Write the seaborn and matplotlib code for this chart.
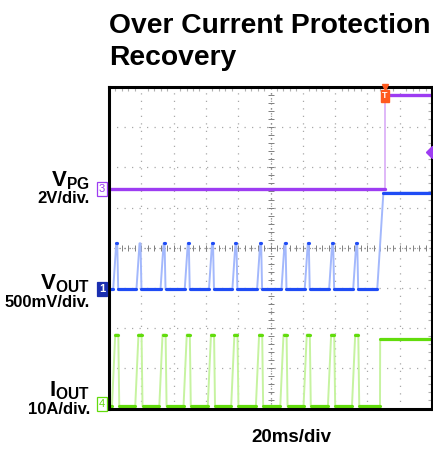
import numpy as np
import pandas as pd
import seaborn as sns
import matplotlib.pyplot as plt
from matplotlib.ticker import MultipleLocator
import matplotlib.transforms as mtrans

# scope screen: 20ms/div, 10 div x 8 div
t_end = 200
spike_ms = [4.8, 19.2, 34.1, 49.1, 64.1, 78.6, 93.9, 109.0, 123.4, 138.5, 153.4]
trig_ms = 170.9

# VPG, 2V/div
vpg_low, vpg_high = 0.0, 4.7
vpg_gnd, vpg_scale = 5.46, 2.0
trig_level_v = 1.86

# VOUT, 500mV/div
vout_base, vout_peak, vout_final = 0.0, 0.57, 1.2
vout_rec_ms = (166.1, 169.9)
vout_gnd, vout_scale = 2.97, 0.5

# IOUT, 10A/div
iout_base, iout_peak, iout_final = 0.0, 17.8, 16.6
iout_rec_ms = (167.8, 167.9)
iout_gnd, iout_scale = 0.06, 10.0

purple, purple_lt = "#9d3cf2", "#d9acf7"
blue, blue_lt = "#1f4cf5", "#a3b8fc"
green, green_lt = "#62dc0c", "#c6f3a0"
orange = "#ff5a1f"


def hiccup(spikes, base, peak, rise, hold, fall, rec, final):
    pts = [(0, base)]
    flats = []
    t_prev = 0
    for s in spikes:
        r0 = s - hold / 2 - rise
        p0, p1 = s - hold / 2, s + hold / 2
        f1 = p1 + fall
        flats.append([(t_prev, base), (r0, base)])
        flats.append([(p0, peak), (p1, peak)])
        pts += [(r0, base), (p0, peak), (p1, peak), (f1, base)]
        t_prev = f1
    flats.append([(t_prev, base), (rec[0], base)])
    flats.append([(rec[1], final), (t_end, final)])
    pts += [(rec[0], base), (rec[1], final), (t_end, final)]
    full = pd.DataFrame(pts, columns=["t", "v"])
    rows = [(i, t, v) for i, seg in enumerate(flats) for t, v in seg]
    flat = pd.DataFrame(rows, columns=["seg", "t", "v"])
    return full, flat


sns.set_style("white")
plt.rcParams["mathtext.fontset"] = "custom"
plt.rcParams["mathtext.bf"] = "Liberation Sans:bold"
plt.rcParams["mathtext.rm"] = "Liberation Sans"
plt.rcParams["font.family"] = ["Liberation Sans", "DejaVu Sans"]
plt.rcParams["text.color"] = "black"

fig = plt.figure(figsize=(4.33, 4.55), dpi=100)
ax = fig.add_axes([109 / 433, 46.5 / 455, 323 / 433, 321.5 / 455])

# graticule
ax.set_xlim(0, t_end)
ax.set_ylim(0, 8)
ax.xaxis.set_major_locator(MultipleLocator(20))
ax.yaxis.set_major_locator(MultipleLocator(1))
ax.xaxis.set_minor_locator(MultipleLocator(4))
ax.yaxis.set_minor_locator(MultipleLocator(0.2))
ax.grid(True, which="major", color="#a8a8a8", linestyle=(0, (1, 5)), lw=0.9)
ax.tick_params(which="both", direction="in", top=True, right=True,
               labelbottom=False, labelleft=False, color="#b0b0b0")
ax.tick_params(which="major", length=0)
ax.tick_params(which="minor", length=3, width=0.8)
ax.axvline(t_end / 2, color="#808080", linestyle=(0, (1, 3)), lw=0.9)
ax.axhline(4, color="#808080", linestyle=(0, (1, 3)), lw=0.9)
ax.plot(np.arange(0, t_end + 1, 4), np.full(51, 4), ls="none", marker="|",
        ms=4, mew=0.7, color="#808080")
ax.plot(np.full(41, t_end / 2), np.arange(0, 8.01, 0.2), ls="none", marker="_",
        ms=4, mew=0.7, color="#808080")
for s in ax.spines.values():
    s.set_color("black")
    s.set_linewidth(2.2)

# VPG trace
vpg = pd.DataFrame({"t": [0, trig_ms, trig_ms, t_end],
                    "v": [vpg_low, vpg_low, vpg_high, vpg_high]})
vpg["y"] = vpg_gnd + vpg["v"] / vpg_scale
sns.lineplot(data=vpg.iloc[1:3], x="t", y="y", color=purple_lt, lw=1.2,
             sort=False, estimator=None, ax=ax)
sns.lineplot(data=vpg.iloc[:2], x="t", y="y", color=purple, lw=2.4,
             sort=False, estimator=None, ax=ax)
sns.lineplot(data=vpg.iloc[2:], x="t", y="y", color=purple, lw=2.4,
             sort=False, estimator=None, ax=ax)

# VOUT trace
full, flat = hiccup(spike_ms, vout_base, vout_peak, 1.9, 0.6, 0.6,
                    vout_rec_ms, vout_final)
full["y"] = vout_gnd + full["v"] / vout_scale
flat["y"] = vout_gnd + flat["v"] / vout_scale
sns.lineplot(data=full, x="t", y="y", color=blue_lt, lw=1.4,
             sort=False, estimator=None, ax=ax)
sns.lineplot(data=flat, x="t", y="y", units="seg", color=blue, lw=2.3,
             sort=False, estimator=None, ax=ax)

# IOUT trace
full, flat = hiccup(spike_ms, iout_base, iout_peak, 2.0, 1.9, 0.6,
                    iout_rec_ms, iout_final)
full["y"] = iout_gnd + full["v"] / iout_scale
flat["y"] = iout_gnd + flat["v"] / iout_scale
sns.lineplot(data=full, x="t", y="y", color=green_lt, lw=1.4,
             sort=False, estimator=None, ax=ax)
sns.lineplot(data=flat, x="t", y="y", units="seg", color=green, lw=2.3,
             sort=False, estimator=None, ax=ax)
ax.set_xlabel("")
ax.set_ylabel("")

# channel ground markers
trans = mtrans.blended_transform_factory(ax.transAxes, ax.transData)
box = dict(boxstyle="square,pad=0.18", lw=0.9)
ax.text(-0.012, vpg_gnd, "3", transform=trans, ha="right", va="center",
        fontsize=8, color=purple, clip_on=False,
        bbox=dict(box, fc="white", ec=purple))
ax.text(-0.012, vout_gnd, "1", transform=trans, ha="right", va="center",
        fontsize=8, color="white", fontweight="bold", clip_on=False,
        bbox=dict(box, fc="#1a2fb0", ec="#1a2fb0"))
ax.text(-0.012, iout_gnd + 0.05, "4", transform=trans, ha="right", va="center",
        fontsize=8, color=green, clip_on=False,
        bbox=dict(box, fc="white", ec=green))

# trigger markers
ax.plot([trig_ms], [8], marker="v", ms=5, color=orange, clip_on=False, zorder=5)
ax.text(trig_ms, 7.78, "T", ha="center", va="center", fontsize=6.5,
        color="white", fontweight="bold", zorder=6,
        bbox=dict(boxstyle="square,pad=0.15", fc=orange, ec=orange))
ax.plot([t_end], [vpg_gnd + trig_level_v / vpg_scale], marker="D", ms=6,
        color=purple, clip_on=True, zorder=5)

# text
fig.text(109 / 433, 1 - 13 / 455, "Over Current Protection\nRecovery",
         ha="left", va="top", fontsize=20.3, fontweight="bold",
         linespacing=1.28, color="black")


def label(py_name, sym, sub, py_scale, scale_txt):
    fig.text(90 / 433, 1 - py_name / 455,
             r"$\mathbf{%s}_{\mathbf{%s}}$" % (sym, sub),
             ha="right", va="baseline", fontsize=16, color="black")
    fig.text(90 / 433, 1 - py_scale / 455, scale_txt, ha="right",
             va="baseline", fontsize=12, fontweight="bold", color="black")


label(186, "V", "PG", 203, "2V/div.")
label(289, "V", "OUT", 307, "500mV/div.")
label(396, "I", "OUT", 414, "10A/div.")

fig.text(291 / 433, 1 - 442 / 455, "20ms/div", ha="center", va="baseline",
         fontsize=13.5, fontweight="bold", color="black")

fig.savefig("out.png", dpi=100)
